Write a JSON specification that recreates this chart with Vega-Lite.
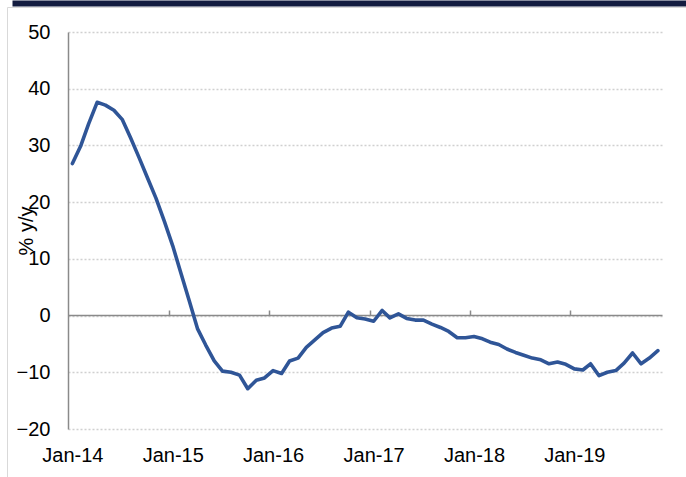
{
  "$schema": "https://vega.github.io/schema/vega-lite/v6.json",
  "width": 679,
  "height": 470,
  "autosize": "none",
  "padding": {"left": 7, "top": 7, "right": 0, "bottom": 0},
  "background": "white",
  "config": {
    "view": {"stroke": "#d9d9d9", "strokeWidth": 1},
    "font": "Liberation Sans",
    "axis": {
      "labelFont": "Liberation Sans",
      "labelFontSize": 20,
      "labelColor": "#000000",
      "titleFont": "Liberation Sans",
      "titleFontSize": 20,
      "titleFontWeight": "normal",
      "titleColor": "#000000"
    }
  },
  "data": {
    "values": [
      {"date": "2014-01-01", "value": 26.8},
      {"date": "2014-02-01", "value": 30.0},
      {"date": "2014-03-01", "value": 33.8},
      {"date": "2014-04-01", "value": 37.6},
      {"date": "2014-05-01", "value": 37.1},
      {"date": "2014-06-01", "value": 36.2},
      {"date": "2014-07-01", "value": 34.6},
      {"date": "2014-08-01", "value": 31.3},
      {"date": "2014-09-01", "value": 27.8},
      {"date": "2014-10-01", "value": 24.3},
      {"date": "2014-11-01", "value": 20.7},
      {"date": "2014-12-01", "value": 16.7},
      {"date": "2015-01-01", "value": 12.3},
      {"date": "2015-02-01", "value": 7.3},
      {"date": "2015-03-01", "value": 2.8},
      {"date": "2015-04-01", "value": -2.3},
      {"date": "2015-05-01", "value": -5.2},
      {"date": "2015-06-01", "value": -8.0},
      {"date": "2015-07-01", "value": -9.8},
      {"date": "2015-08-01", "value": -10.0},
      {"date": "2015-09-01", "value": -10.5},
      {"date": "2015-10-01", "value": -12.9},
      {"date": "2015-11-01", "value": -11.4},
      {"date": "2015-12-01", "value": -11.0},
      {"date": "2016-01-01", "value": -9.7},
      {"date": "2016-02-01", "value": -10.2},
      {"date": "2016-03-01", "value": -8.0},
      {"date": "2016-04-01", "value": -7.5},
      {"date": "2016-05-01", "value": -5.6},
      {"date": "2016-06-01", "value": -4.3},
      {"date": "2016-07-01", "value": -3.0},
      {"date": "2016-08-01", "value": -2.2},
      {"date": "2016-09-01", "value": -1.9},
      {"date": "2016-10-01", "value": 0.6},
      {"date": "2016-11-01", "value": -0.4},
      {"date": "2016-12-01", "value": -0.6},
      {"date": "2017-01-01", "value": -1.0},
      {"date": "2017-02-01", "value": 0.9},
      {"date": "2017-03-01", "value": -0.4},
      {"date": "2017-04-01", "value": 0.3},
      {"date": "2017-05-01", "value": -0.5},
      {"date": "2017-06-01", "value": -0.8},
      {"date": "2017-07-01", "value": -0.8},
      {"date": "2017-08-01", "value": -1.5},
      {"date": "2017-09-01", "value": -2.1},
      {"date": "2017-10-01", "value": -2.8},
      {"date": "2017-11-01", "value": -3.9},
      {"date": "2017-12-01", "value": -3.9},
      {"date": "2018-01-01", "value": -3.7},
      {"date": "2018-02-01", "value": -4.1},
      {"date": "2018-03-01", "value": -4.7},
      {"date": "2018-04-01", "value": -5.1},
      {"date": "2018-05-01", "value": -5.9},
      {"date": "2018-06-01", "value": -6.5},
      {"date": "2018-07-01", "value": -7.0},
      {"date": "2018-08-01", "value": -7.5},
      {"date": "2018-09-01", "value": -7.8},
      {"date": "2018-10-01", "value": -8.5},
      {"date": "2018-11-01", "value": -8.2},
      {"date": "2018-12-01", "value": -8.6},
      {"date": "2019-01-01", "value": -9.4},
      {"date": "2019-02-01", "value": -9.6},
      {"date": "2019-03-01", "value": -8.5},
      {"date": "2019-04-01", "value": -10.6},
      {"date": "2019-05-01", "value": -10.0},
      {"date": "2019-06-01", "value": -9.7},
      {"date": "2019-07-01", "value": -8.4},
      {"date": "2019-08-01", "value": -6.6},
      {"date": "2019-09-01", "value": -8.5},
      {"date": "2019-10-01", "value": -7.5},
      {"date": "2019-11-01", "value": -6.2}
    ]
  },
  "layer": [
    {
      "mark": {"type": "point", "opacity": 0},
      "encoding": {
        "x": {
          "field": "date",
          "type": "temporal",
          "scale": {
            "type": "utc",
            "domain": [
              {"year": 2013, "month": 12, "date": 16, "utc": true},
              {"year": 2019, "month": 11, "date": 16, "utc": true}
            ],
            "range": [5, 679]
          },
          "axis": {
            "orient": "top",
            "offset": 4,
            "domain": true,
            "domainColor": "#131C40",
            "domainWidth": 6,
            "ticks": false,
            "labels": false,
            "grid": false,
            "title": null
          }
        }
      }
    },
    {
      "mark": {"type": "point", "opacity": 0},
      "encoding": {
        "x": {
          "field": "date",
          "type": "temporal",
          "scale": {
            "type": "utc",
            "domain": [
              {"year": 2013, "month": 12, "date": 16, "utc": true},
              {"year": 2019, "month": 11, "date": 16, "utc": true}
            ],
            "range": [61, 655]
          },
          "axis": {
            "orient": "top",
            "offset": -308,
            "domain": true,
            "domainColor": "#8A8A8A",
            "domainWidth": 1.5,
            "ticks": true,
            "tickColor": "#8A8A8A",
            "tickWidth": 1.5,
            "tickSize": 5,
            "labels": false,
            "grid": false,
            "title": null,
            "values": [
              {"year": 2014, "month": 12, "date": 17, "utc": true},
              {"year": 2015, "month": 12, "date": 17, "utc": true},
              {"year": 2016, "month": 12, "date": 17, "utc": true},
              {"year": 2017, "month": 12, "date": 17, "utc": true},
              {"year": 2018, "month": 12, "date": 17, "utc": true}
            ]
          }
        }
      }
    },
    {
      "mark": {"type": "line", "color": "#2F5597", "strokeWidth": 3.6, "strokeJoin": "round", "strokeCap": "round"},
      "encoding": {
        "x": {
          "field": "date",
          "type": "temporal",
          "scale": {
            "type": "utc",
            "domain": [
              {"year": 2013, "month": 12, "date": 16, "utc": true},
              {"year": 2019, "month": 11, "date": 16, "utc": true}
            ],
            "range": [61, 655]
          },
          "axis": {
            "orient": "bottom",
            "offset": -48,
            "domain": false,
            "ticks": false,
            "tickSize": 0,
            "grid": false,
            "labelPadding": 16,
            "labelExpr": "utcFormat(datum.value, '%b-%y')",
            "title": null,
            "values": [
              {"year": 2014, "month": 1, "date": 1, "utc": true},
              {"year": 2015, "month": 1, "date": 1, "utc": true},
              {"year": 2016, "month": 1, "date": 1, "utc": true},
              {"year": 2017, "month": 1, "date": 1, "utc": true},
              {"year": 2018, "month": 1, "date": 1, "utc": true},
              {"year": 2019, "month": 1, "date": 1, "utc": true}
            ]
          }
        },
        "y": {
          "field": "value",
          "type": "quantitative",
          "scale": {"domain": [-20, 50], "range": [422, 25], "nice": false, "zero": false},
          "axis": {
            "orient": "left",
            "offset": -61,
            "values": [-20, -10, 0, 10, 20, 30, 40, 50],
            "domain": true,
            "domainColor": "#8A8A8A",
            "domainWidth": 1.5,
            "ticks": false,
            "tickSize": 0,
            "labelPadding": 18,
            "grid": true,
            "gridColor": "#D0D0D0",
            "gridDash": [2, 2],
            "gridWidth": 1.5,
            "title": "% y/y",
            "titleX": -42,
            "titleBaseline": "middle"
          }
        }
      }
    }
  ],
  "resolve": {"scale": {"x": "independent"}, "axis": {"x": "independent"}}
}
